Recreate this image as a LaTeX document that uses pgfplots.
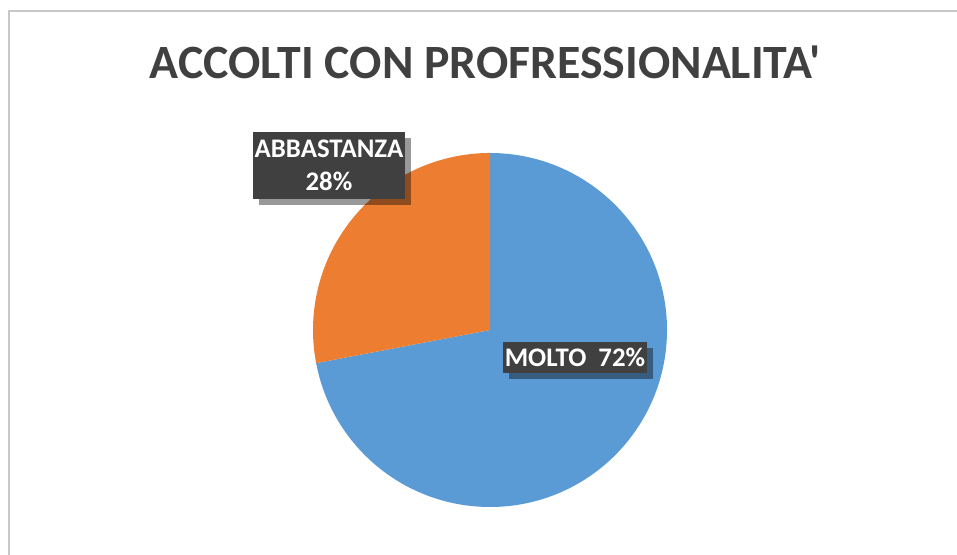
\documentclass[border=0pt]{standalone}
\usepackage{fontspec}
\setmainfont{Carlito}
\newfontfamily\titlefont{Carlito}[Ligatures=TeXOff]
\usepackage{pgfplots}
\usepackage{pgfplotstable}
\pgfplotsset{compat=1.18}
\usetikzlibrary{shadows}

\definecolor{Cblue}{HTML}{5B9BD5}
\definecolor{Corange}{HTML}{ED7D31}
\definecolor{Ctitle}{HTML}{404040}
\definecolor{Cbox}{HTML}{404040}
\definecolor{Cframe}{HTML}{C8C8C8}

\pgfplotstableread{
label value
MOLTO 72
ABBASTANZA 28
}\piedata

\pgfplotstablegetelem{0}{value}\of\piedata \let\vmolto\pgfplotsretval
\pgfplotstablegetelem{1}{value}\of\piedata \let\vabb\pgfplotsretval
\pgfplotstablegetelem{0}{label}\of\piedata \let\lmolto\pgfplotsretval
\pgfplotstablegetelem{1}{label}\of\piedata \let\labb\pgfplotsretval
\pgfmathsetmacro\angmolto{360/(\vmolto+\vabb)*\vmolto}
\pgfmathsetmacro\angabb{360/(\vmolto+\vabb)*\vabb}

\begin{document}
\begin{tikzpicture}[
		labelbox/.style={
			fill=Cbox, text=white, font=\bfseries\fontsize{13.4bp}{16.5bp}\selectfont,
			align=center, inner sep=0pt,
			drop shadow={shadow xshift=3bp, shadow yshift=-3bp, opacity=0.4, fill=black},
		},
	]
	\useasboundingbox (0,0) rectangle (478.5bp,277.5bp);
	\begin{axis}[
			scale only axis,
			width=478.5bp,
			height=277.5bp,
			xmin=0, xmax=957,
			ymin=0, ymax=555,
			hide axis,
			clip=false,
		]
		% frame (only top and left edges are visible)
		\draw[Cframe, line width=1bp] (axis cs:9,0) -- (axis cs:9,544) -- (axis cs:957,544);
		% title
		\node[text=Ctitle, font=\titlefont\bfseries\fontsize{23.9bp}{26bp}\selectfont]
			at (axis cs:485,493) {ACCOLTI CON PROFRESSIONALITA'};
		% pie, clockwise from 12 o'clock
		\fill[Cblue] (axis cs:490,225) -- ++(90:88.5bp)
			arc[start angle=90, delta angle=-\angmolto, radius=88.5bp] -- cycle;
		\fill[Corange] (axis cs:490,225) -- ++(90:88.5bp)
			arc[start angle=90, delta angle=\angabb, radius=88.5bp] -- cycle;
		% data labels
		\node[labelbox, minimum width=76bp, minimum height=33.5bp]
			at (axis cs:329,389.5) {\labb\\\vabb\%};
		\node[labelbox, minimum width=72bp, minimum height=15.5bp]
			at (axis cs:575,197.5) {\lmolto\ \ \vmolto\%};
	\end{axis}
\end{tikzpicture}
\end{document}
